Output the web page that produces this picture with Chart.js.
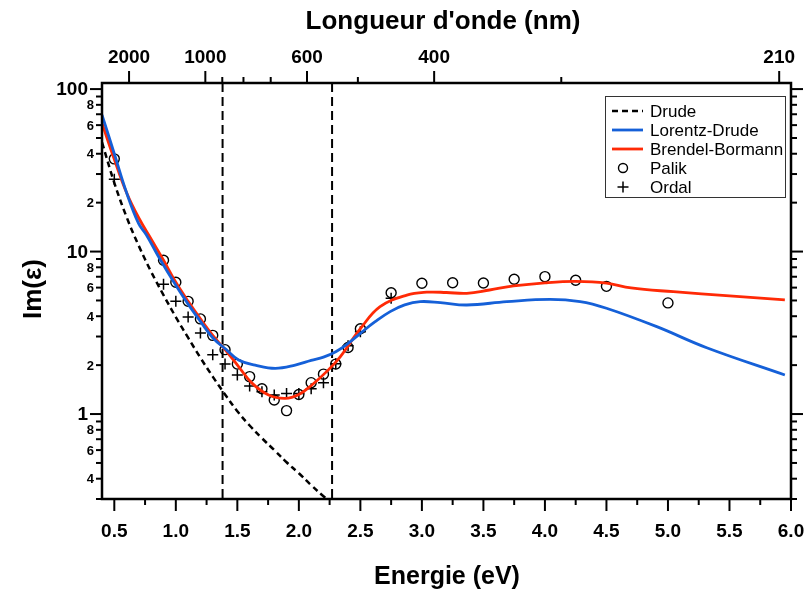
<!DOCTYPE html>
<html><head><meta charset="utf-8">
<script src="https://cdn.jsdelivr.net/npm/chart.js@4.4.1/dist/chart.umd.min.js"></script>
<style>html,body{margin:0;padding:0;background:#fff;}#wrap{width:809px;height:594px;}</style>
</head><body><div id="wrap"><canvas id="c" width="809" height="594"></canvas></div>
<script>
// ---- data ----
const palikE = [0.5,0.9,1.0,1.1,1.2,1.3,1.4,1.5,1.6,1.7,1.8,1.9,2.0,2.1,2.2,2.3,2.4,2.5,2.75,3.0,3.25,3.5,3.75,4.0,4.25,4.5,5.0];
const palikV = [37.2,8.84,6.47,4.94,3.85,3.05,2.49,2.03,1.70,1.43,1.22,1.05,1.32,1.56,1.76,2.03,2.57,3.35,5.58,6.38,6.43,6.41,6.75,7.01,6.66,6.11,4.83];
const ordalE = [0.5,0.9,1.0,1.1,1.2,1.3,1.4,1.5,1.6,1.7,1.8,1.9,2.0,2.1,2.2,2.3,2.4,2.5,2.75];
const ordalV = [27.9,6.29,4.94,3.96,3.15,2.32,2.03,1.74,1.49,1.37,1.31,1.34,1.34,1.43,1.56,2.04,2.63,3.21,5.16];
const drudeE = [0.40,0.5,0.6,0.7,0.8,0.9,1.0,1.1,1.2,1.3,1.4,1.5,1.6,1.7,1.8,1.9,2.0,2.1,2.2,2.3];
const drudeV = [47,26.5,16.3,10.8,7.5,5.4,3.95,2.95,2.22,1.70,1.32,1.04,0.85,0.71,0.60,0.505,0.432,0.365,0.312,0.27];
const ldE = [0.40,0.5,0.6,0.697,0.76,0.86,1.0,1.1,1.2,1.3,1.41,1.51,1.645,1.808,1.97,2.1,2.2,2.3,2.4,2.5,2.62,2.742,2.86,2.986,3.15,3.365,3.69,4.042,4.286,4.50,4.909,5.315,5.95];
const ldV = [69.4,40,23,14.9,12.7,9.3,6.2,4.75,3.72,2.95,2.49,2.15,2.00,1.91,2.00,2.14,2.24,2.42,2.72,3.14,3.70,4.27,4.70,4.92,4.85,4.69,4.92,5.08,4.92,4.48,3.45,2.56,1.74];
const bbE = [0.40,0.5,0.6,0.697,0.8,0.9,1.0,1.1,1.2,1.3,1.4,1.51,1.619,1.754,1.889,2.0,2.106,2.24,2.336,2.5,2.66,2.878,3.04,3.2,3.365,3.55,3.744,4.0,4.25,4.5,4.7,5.044,5.5,5.95];
const bbV = [61.7,37,23.0,16.2,11.9,8.84,6.47,4.94,3.85,3.05,2.49,1.96,1.55,1.31,1.25,1.32,1.51,1.87,2.25,3.35,4.58,5.40,5.62,5.60,5.53,5.80,6.14,6.42,6.55,6.40,5.97,5.66,5.33,5.04];
const vLinesE = [1.38, 2.27];
// ticks
const xMajorTicks = [0.5,1.0,1.5,2.0,2.5,3.0,3.5,4.0,4.5,5.0,5.5,6.0];
const xMajorLabels = ['0.5','1.0','1.5','2.0','2.5','3.0','3.5','4.0','4.5','5.0','5.5','6.0'];
const xMinorTicks = [0.75,1.25,1.75,2.25,2.75,3.25,3.75,4.25,4.75,5.25,5.75];
const yMajorTicks = [1,10,100];
const yMajorLabels = ['1','10','100'];
const yLabeledMinor = [0.4,0.6,0.8,2,4,6,8,20,40,60,80];
const yLabeledMinorText = ['4','6','8','2','4','6','8','2','4','6','8'];
const yUnlabeledMinor = [0.3,0.5,0.7,0.9,3,5,7,9,30,50,70,90];
const topMajorNm = [2000,1000,600,400,210];
const topMajorLabels = ['2000','1000','600','400','210'];
const topMinorNm = [900,800,700,500,300];
const HC = 1239.84; // eV*nm

const FONT = "'Liberation Sans', Arial, Helvetica, sans-serif";
const pts = (xs, ys) => xs.map((e,i)=>({x:e, y:ys[i]}));

const axesPlugin = {
  id: 'axesPlugin',
  beforeDatasetsDraw(chart){
    const {ctx, chartArea:a, scales:{x}} = chart;
    ctx.save();
    ctx.strokeStyle = '#000'; ctx.lineWidth = 2; ctx.setLineDash([9,5]);
    vLinesE.forEach(e=>{
      const px = x.getPixelForValue(e);
      ctx.beginPath(); ctx.moveTo(px, a.top); ctx.lineTo(px, a.bottom); ctx.stroke();
    });
    ctx.restore();
  },
  afterDatasetsDraw(chart){
    const {ctx, chartArea:a, scales:{x,y}} = chart;
    ctx.save();
    ctx.strokeStyle = '#000'; ctx.fillStyle = '#000'; ctx.setLineDash([]);
    ctx.lineWidth = 2.5;
    ctx.strokeRect(a.left, a.top, a.right-a.left, a.bottom-a.top);
    ctx.lineWidth = 2;
    const hline = (x0,y0,x1,y1)=>{ctx.beginPath();ctx.moveTo(x0,y0);ctx.lineTo(x1,y1);ctx.stroke();};
    // bottom axis
    ctx.font = 'bold 19px ' + FONT; ctx.textAlign='center'; ctx.textBaseline='alphabetic';
    xMajorTicks.forEach((v,i)=>{const px=x.getPixelForValue(v); hline(px,a.bottom,px,a.bottom+12); ctx.fillText(xMajorLabels[i], px, 537);});
    xMinorTicks.forEach(v=>{const px=x.getPixelForValue(v); hline(px,a.bottom,px,a.bottom+6);});
    // top axis (wavelength)
    topMajorNm.forEach((nm,i)=>{const px=x.getPixelForValue(HC/nm); hline(px,a.top,px,a.top-12); ctx.fillText(topMajorLabels[i], px, 63);});
    topMinorNm.forEach(nm=>{const px=x.getPixelForValue(HC/nm); hline(px,a.top,px,a.top-6);});
    // left & right axes
    ctx.textAlign='right'; ctx.textBaseline='middle';
    ctx.font = 'bold 19px ' + FONT;
    yMajorTicks.forEach((v,i)=>{const py=y.getPixelForValue(v); hline(a.left-12,py,a.left,py); hline(a.right,py,a.right+12,py); ctx.fillText(yMajorLabels[i], a.left-14, py+1);});
    ctx.font = 'bold 13px ' + FONT;
    yLabeledMinor.forEach((v,i)=>{const py=y.getPixelForValue(v); hline(a.left-6,py,a.left,py); hline(a.right,py,a.right+6,py); ctx.fillText(yLabeledMinorText[i], a.left-8, py+1);});
    yUnlabeledMinor.forEach(v=>{const py=y.getPixelForValue(v); hline(a.left-6,py,a.left,py); hline(a.right,py,a.right+6,py);});
    // titles
    ctx.textAlign='center'; ctx.textBaseline='alphabetic';
    ctx.font = 'bold 26px ' + FONT;
    ctx.fillText("Longueur d'onde (nm)", 443, 29);
    ctx.font = 'bold 25px ' + FONT;
    ctx.fillText('Energie (eV)', 447, 584);
    ctx.save();
    ctx.translate(41, 289); ctx.rotate(-Math.PI/2);
    ctx.font = 'bold 26px ' + FONT;
    ctx.fillText('Im(\u03B5)', 0, 0);
    ctx.restore();
    // legend
    const L = {x:605, y:96, w:180, h:101};
    ctx.lineWidth = 1; ctx.strokeStyle = '#333';
    ctx.strokeRect(L.x+0.5, L.y+0.5, L.w, L.h);
    ctx.font = '17px ' + FONT; ctx.textAlign='left'; ctx.textBaseline='middle'; ctx.fillStyle='#000';
    chart.data.datasets.forEach((ds,i)=>{
      const cy = 111 + i*19;
      if (ds.showLine){
        ctx.strokeStyle = ds.borderColor; ctx.lineWidth = ds.borderWidth;
        ctx.setLineDash(ds.borderDash || []);
        hline(612, cy, 643, cy);
        ctx.setLineDash([]);
      } else {
        ctx.strokeStyle = '#000'; ctx.lineWidth = ds.borderWidth;
        if (ds.pointStyle === 'circle'){ ctx.beginPath(); ctx.arc(623, cy, 4.5, 0, Math.PI*2); ctx.stroke(); }
        else { hline(617.5, cy, 628.5, cy); hline(623, cy-5.5, 623, cy+5.5); }
      }
      ctx.fillText(ds.label, 650, cy+1);
    });
    ctx.restore();
  }
};

new Chart(document.getElementById('c'), {
  type: 'scatter',
  data: { datasets: [
    {label:'Drude', data: pts(drudeE, drudeV), showLine:true, borderColor:'#000', borderWidth:2.5, borderDash:[6,4], pointRadius:0, tension:0.4},
    {label:'Lorentz-Drude', data: pts(ldE, ldV), showLine:true, borderColor:'#1560d8', borderWidth:2.8, pointRadius:0, tension:0.4},
    {label:'Brendel-Bormann', data: pts(bbE, bbV), showLine:true, borderColor:'#ff2a06', borderWidth:2.8, pointRadius:0, tension:0.4},
    {label:'Palik', data: pts(palikE, palikV), showLine:false, pointStyle:'circle', pointRadius:5, borderColor:'#000', backgroundColor:'rgba(0,0,0,0)', borderWidth:1.4},
    {label:'Ordal', data: pts(ordalE, ordalV), showLine:false, pointStyle:'cross', pointRadius:5.5, borderColor:'#000', borderWidth:1.5}
  ]},
  options: {
    responsive:false, animation:false, devicePixelRatio:1,
    layout:{padding:{left:102, right:18, top:83, bottom:95}},
    plugins:{legend:{display:false}, tooltip:{enabled:false}},
    scales:{
      x:{type:'linear', min:0.4, max:6.0, display:false},
      y:{type:'logarithmic', min:0.3, max:109, display:false}
    }
  },
  plugins:[axesPlugin]
});
</script></body></html>
